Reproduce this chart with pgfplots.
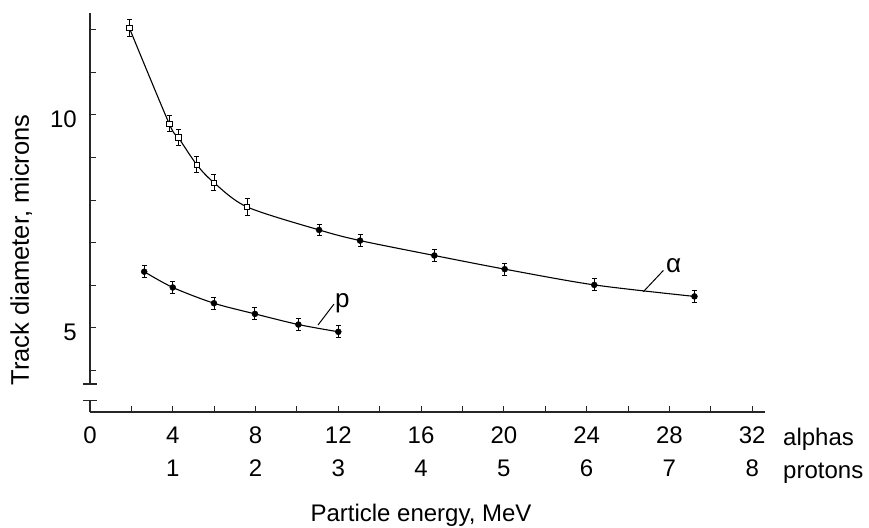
\documentclass[border=0pt]{standalone}
\usepackage{fontspec}
\setmainfont{Liberation Sans}
\usepackage{pgfplots}
\pgfplotsset{compat=1.18}
\usepackage{pgfplotstable}
% x values in the "alphas" energy scale (MeV); protons: MeV = x/4
\pgfplotstableread{
x y e
1.90 12.04 0.19
3.83 9.79 0.19
4.27 9.47 0.19
5.16 8.83 0.19
5.99 8.41 0.19
7.59 7.84 0.19
}\alphasq
\pgfplotstableread{
x y e
11.07 7.30 0.14
13.05 7.05 0.14
16.64 6.70 0.14
20.04 6.38 0.14
24.37 6.01 0.14
29.21 5.74 0.14
}\alphaci
\pgfplotstableread{
x y
1.90 12.04
3.83 9.79
4.27 9.47
5.16 8.83
5.99 8.41
7.59 7.84
11.07 7.30
13.05 7.05
16.64 6.70
20.04 6.38
24.37 6.01
29.21 5.74
}\alphacurve
\pgfplotstableread{
x y e
2.62 6.32 0.14
4.00 5.95 0.14
5.99 5.58 0.14
7.97 5.33 0.14
10.07 5.08 0.14
12.00 4.91 0.14
}\protons
\begin{document}
\begin{tikzpicture}
\path[use as bounding box] (-90pt,-115pt) rectangle (779pt,412pt);
\begin{axis}[
  scale only axis,
  width=675pt, height=399pt,
  xmin=0, xmax=32.62,
  ymin=3.028, ymax=12.39,
  axis x line*=bottom,
  axis y line*=left,
  y axis line style={draw=none},
  x axis line style={line width=1.3pt, black!85, -},
  tick align=inside,
  major tick length=6pt,
  minor tick length=6pt,
  every tick/.style={line width=1pt, black!85},
  xtick={0,4,...,32},
  minor xtick={2,6,...,30},
  xticklabels={{0},{4\\1},{8\\2},{12\\3},{16\\4},{20\\5},{24\\6},{28\\7},{32\\8}},
  xticklabel style={font=\fontsize{24}{33}\selectfont, align=center, anchor=north, inner sep=0pt, yshift=-15pt},
  ytick={5,10},
  minor ytick={4,6,7,8,9,11,12},
  yticklabels={5,10},
  yticklabel style={font=\fontsize{24}{28}\selectfont, anchor=east, inner sep=0pt, xshift=-13pt, yshift=-4pt},
  error bars/y dir=both,
  error bars/y explicit,
]
\addplot[black, line width=1.1pt, smooth, no marks] table[x=x,y=y] {\alphacurve};
\addplot[black, line width=1.1pt, smooth, no marks] table[x=x,y=y] {\protons};
\addplot[only marks, mark=square*, mark size=2.7pt, mark options={fill=white, draw=black, line width=0.8pt},
  error bars/error bar style={line width=0.9pt, black},
  error bars/error mark options={rotate=90, mark size=2.5pt, line width=0.9pt, black}]
  table[x=x,y=y,y error=e] {\alphasq};
\addplot[only marks, mark=*, mark size=3pt, mark options={fill=black, draw=black},
  error bars/error bar style={line width=0.9pt, black},
  error bars/error mark options={rotate=90, mark size=2.5pt, line width=0.9pt, black}]
  table[x=x,y=y,y error=e] {\alphaci};
\addplot[only marks, mark=*, mark size=3pt, mark options={fill=black, draw=black},
  error bars/error bar style={line width=0.9pt, black},
  error bars/error mark options={rotate=90, mark size=2.5pt, line width=0.9pt, black}]
  table[x=x,y=y,y error=e] {\protons};
\draw[black, line width=1pt] (axis cs:26.74,5.85) -- (axis cs:27.71,6.35);
\node[inner sep=0pt, font=\fontsize{26}{30}\selectfont] at (axis cs:28.2,6.47) {α};
\draw[black, line width=1pt] (axis cs:11.02,5.07) -- (axis cs:11.79,5.56);
\node[inner sep=0pt, font=\fontsize{26}{30}\selectfont] at (axis cs:12.2,5.59) {p};
\end{axis}
% broken y axis
\draw[line width=1.3pt, black!85] (0pt,399pt) -- (0pt,28pt);
\draw[line width=1.3pt, black!85] (-7pt,28pt) -- (7pt,28pt);
\draw[line width=1.3pt, black!85] (-7pt,11.3pt) -- (7pt,11.3pt);
\draw[line width=1.3pt, black!85] (0pt,11.3pt) -- (0pt,0pt);
% labels
\node[anchor=base, rotate=90, inner sep=0pt, font=\fontsize{25.5}{30}\selectfont] at (-61pt,162pt) {Track diameter, microns};
\node[anchor=base west, inner sep=0pt, font=\fontsize{24}{28}\selectfont] at (693pt,-33pt) {alphas};
\node[anchor=base west, inner sep=0pt, font=\fontsize{24}{28}\selectfont] at (693pt,-66pt) {protons};
\node[anchor=base, inner sep=0pt, font=\fontsize{24}{28}\selectfont] at (331pt,-109.7pt) {Particle energy, MeV};
\end{tikzpicture}
\end{document}
